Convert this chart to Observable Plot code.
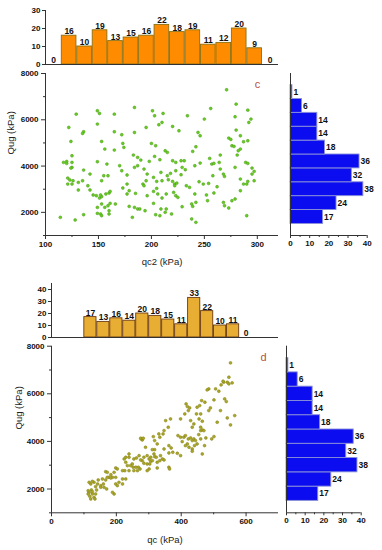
<!DOCTYPE html>
<html>
<head>
<meta charset="utf-8">
<script src="https://cdn.jsdelivr.net/npm/d3@7"></script>
<script src="https://cdn.jsdelivr.net/npm/@observablehq/plot@0.6"></script>
<style>
  html, body { margin: 0; padding: 0; background: #fff; }
  #chart { position: relative; width: 382px; height: 550px; overflow: hidden; background: #fff; }
  #chart svg { position: absolute; overflow: visible; }
</style>
</head>
<body>
<div id="chart"></div>
<script>
// ---------- DATA ----------
// Panel c: top histogram of qc2 (15 bins)
const cTopStart = 100.4, cTopWidth = 14.6;
const cTopCounts = [0, 16, 10, 19, 13, 15, 16, 22, 18, 19, 11, 12, 20, 9, 0];
// Panel d: top histogram of qc (13 bins)
const dTopStart = 100, dTopWidth = 40;
const dTopCounts = [17, 13, 16, 14, 20, 18, 15, 11, 33, 22, 10, 11, 0];
// Right histograms of Qug (bins bottom -> top), same for c and d
const qugStart = 1500, qugWidth = 600;
const qugCounts = [17, 24, 38, 32, 36, 18, 14, 14, 6, 1];

// Panel c scatter: qc2 (kPa) vs Qug (kPa)
const cQc2 = [271,280,149,151,184,201,203,211,256,234,250,291,294,292,279,129,122,165,149,195,207,210,220,226,244,246,280,284,136,135,165,184,172,124,153,173,174,156,165,200,204,213,215,239,242,273,275,276,278,287,291,284,282,281,125,183,187,190,198,203,208,220,223,228,231,229,232,246,241,255,257,259,264,265,265,268,269,279,289,291,295,297,295,117,120,120,125,125,124,136,142,149,158,159,170,172,177,184,187,193,196,202,209,215,218,223,228,121,123,126,125,131,135,121,140,153,155,177,195,192,205,210,216,220,222,222,224,233,236,245,249,254,258,262,284,287,290,291,297,131,142,145,148,151,153,152,157,160,161,173,177,179,185,193,196,202,205,206,210,214,221,223,225,241,252,259,253,276,279,268,269,273,284,149,153,156,159,160,161,149,152,153,160,166,179,184,187,189,194,202,204,208,209,214,213,219,229,238,239,242,136,114,128,182,238,242,290];
const cQug = [7295,6676,6388,6273,6532,6388,6172,6273,6489,6172,6029,6417,6029,5885,6129,6244,5669,6244,5813,5669,5784,5885,5712,5525,5453,5309,5554,5309,5482,5410,5482,5453,5352,5064,5064,4978,4806,4734,4690,4978,4877,4662,4590,4633,4834,5208,5150,4877,4850,5050,5093,4734,4662,4475,4446,4475,4374,4259,4201,4417,4273,4230,4158,4230,4230,3942,3842,4129,4014,4331,4086,4115,4158,4475,3870,3654,3553,3942,4158,4115,3913,3769,3654,4158,4201,4115,4158,3942,3913,3827,3654,4187,4086,3582,4014,3798,3611,3942,4014,3870,3654,3510,3726,3582,3683,3798,3625,3481,3395,3366,3222,3294,3366,3222,3150,3366,3582,3222,3366,3222,3337,3366,3409,3337,3222,3150,3265,3150,3078,3323,3222,3251,3582,3107,3438,3222,3222,3337,3366,2964,2964,2748,2719,2618,2676,2748,2791,2834,2906,3050,2791,2935,2820,3150,2719,2906,3035,2791,2618,2791,2863,2719,2647,2791,2748,2834,2503,2503,2575,2431,2287,2187,2935,2215,2359,2215,2287,2072,2388,1956,1928,1856,1928,2359,2258,2215,2143,2143,2072,2388,1899,1856,2143,2143,2000,1928,2244,2359,2258,2431,1899,1784,1669,1784,1712,1568,1856];

// Panel d scatter: qc (kPa) vs Qug (kPa)
const dQc = [552,547,542,547,557,531,529,523,565,552,542,534,539,521,511,501,506,516,485,480,490,485,473,463,457,449,460,455,465,447,439,434,429,422,415,419,426,411,398,390,398,408,413,422,429,434,439,444,449,460,465,460,470,454,472,465,476,494,501,460,441,434,434,419,413,403,424,398,388,374,362,369,362,367,352,360,347,344,334,326,331,314,318,318,311,336,342,347,362,364,306,316,295,301,306,311,318,323,290,285,280,285,275,270,268,273,280,277,295,301,303,295,262,254,249,252,260,254,265,244,239,239,229,239,229,224,234,226,219,229,219,198,203,193,198,188,183,208,203,198,193,188,177,167,172,172,183,167,157,160,152,152,162,170,142,136,131,144,126,116,121,113,116,123,118,121,131,136,139,134,126,126,113,219,275,283,326,334,347,326];
const dQug = [7299,6696,6486,6416,6458,6486,6528,6374,5084,4691,4986,5785,5673,5294,4804,5743,6205,6107,6205,6163,5406,5294,5645,5715,5504,5434,5154,4944,4846,5154,4734,4593,4874,5294,5575,5462,5406,5154,4944,4243,4173,4173,4243,4103,4145,4033,4103,4033,3892,4453,4481,4593,4453,4285,3822,3471,4145,4103,4201,4103,3822,3682,3584,3892,3822,3990,3752,3401,3499,3541,3513,3724,3822,4944,4874,4593,4453,4313,4173,3892,4313,4201,4033,3654,3654,3401,3261,3219,2911,2840,3331,3471,3401,3261,3163,3191,3359,3331,3752,3331,3191,3079,3219,3401,2911,2840,4060,4103,2770,2840,3051,3051,3303,3261,3051,2911,2911,2770,2770,2981,2770,3331,3331,3471,3121,3261,2981,2770,2770,2420,2420,2882,2840,2700,2490,2490,2602,2280,2140,2210,1789,1859,2490,2728,2700,2490,2462,2378,2420,2210,2140,2070,2070,2000,2210,2098,2280,2378,2322,2280,2210,1929,1859,1957,1691,1579,1649,1789,1957,1579,1789,1887,1789,2210,4130,4130,2882,3191,3682,3121];

// Tick values
const cXTicks = [100, 150, 200, 250, 300], cXMinor = [125, 175, 225, 275];
const dXTicks = [0, 200, 400, 600], dXMinor = [100, 300, 500];
const qugTicks = [2000, 4000, 6000, 8000], qugMinor = [1000, 3000, 5000, 7000];
const countTicks = [0, 10, 20, 30, 40], countMinor = [5, 15, 25, 35];
const cTopTicks = [0, 10, 20, 30], dTopTicks = [0, 10, 20, 30, 40];
const labels = {cX: "qc2 (kPa)", dX: "qc (kPa)", y: "Qug (kPa)", c: "c", d: "d"};

// ---------- BUILD ----------
const FONT = "Liberation Sans, Arial, Helvetica, sans-serif";
const baseStyle = {fontFamily: FONT, fontSize: "8px", fontWeight: "bold", color: "#111", background: "transparent", overflow: "visible"};
const AX = "#333";
const fmt = d => String(d);
const none = () => "";
const chart = document.getElementById("chart");
function place(svg, left, top) { svg.style.left = left + "px"; svg.style.top = top + "px"; chart.append(svg); }

const binsOf = (counts, start, width) => counts.map((n, i) => ({n, x1: start + i * width, x2: start + (i + 1) * width}));
const cTop = binsOf(cTopCounts, cTopStart, cTopWidth);
const dTop = binsOf(dTopCounts, dTopStart, dTopWidth);
const qugBins = qugCounts.map((n, i) => ({n, lo: qugStart + i * qugWidth, hi: qugStart + (i + 1) * qugWidth}));
const cPts = cQc2.map((x, i) => ({x, y: cQug[i]}));
const dPts = dQc.map((x, i) => ({x, y: dQug[i]}));

function topHist(bins, xDomain, yDomain, yTicks, m, fill, stroke) {
  return Plot.plot({
    width: 290, height: 70, ...m,
    style: baseStyle,
    x: {domain: xDomain, axis: null},
    y: {domain: yDomain, axis: null},
    marks: [
      Plot.rectY(bins, {x1: "x1", x2: "x2", y1: 0, y2: "n", fill, stroke, strokeWidth: 0.9, insetLeft: 0.4, insetRight: 0.4}),
      Plot.text(bins, {x: d => (d.x1 + d.x2) / 2, y: "n", text: d => String(d.n), lineAnchor: "bottom", dy: -1.5, fill: "#111", fontSize: 8.5}),
      Plot.ruleX([xDomain[0]], {stroke: AX, strokeWidth: 1}),
      Plot.ruleY([0], {stroke: AX, strokeWidth: 1}),
      Plot.axisY({ticks: yTicks, tickSize: 3, tickPadding: 2, stroke: AX, tickFormat: fmt, label: null})
    ]
  });
}

function scatter(pts, xDomain, xTicks, xMinor, m, fill, stroke, xLabel, tag, yLabDx, xLabDy, tagDx, tagDy) {
  return Plot.plot({
    width: 285, height: 210, ...m,
    style: baseStyle,
    x: {domain: xDomain, axis: null},
    y: {domain: [1000, 8000], axis: null},
    marks: [
      Plot.ruleX([xDomain[0]], {stroke: AX, strokeWidth: 1}),
      Plot.ruleY([1000], {stroke: AX, strokeWidth: 1}),
      Plot.axisX({ticks: xTicks, tickSize: 4, tickPadding: 2, stroke: AX, tickFormat: fmt, label: null}),
      Plot.axisX({ticks: xMinor, tickSize: 2, tickFormat: none, stroke: AX, label: null}),
      Plot.axisY({ticks: qugTicks, tickSize: 4, tickPadding: 3, stroke: AX, tickFormat: fmt, label: null}),
      Plot.axisY({ticks: qugMinor, tickSize: 2, tickFormat: none, stroke: AX, label: null}),
      Plot.dot(pts, {x: "x", y: "y", r: 1.45, fill, stroke, strokeWidth: 0.5}),
      Plot.text([tag], {frameAnchor: "top-right", dx: tagDx, dy: tagDy, textAnchor: "middle", lineAnchor: "middle", fill: "#b4503c", fontSize: 11, fontWeight: "normal"}),
      Plot.text([xLabel], {frameAnchor: "bottom", dy: xLabDy, lineAnchor: "middle", fontSize: 9.5, fontWeight: "normal", fill: "#222"}),
      Plot.text([labels.y], {frameAnchor: "left", dx: yLabDx, rotate: -90, lineAnchor: "middle", fontSize: 9.5, fontWeight: "normal", fill: "#222"})
    ]
  });
}

function rightHist(w, m) {
  return Plot.plot({
    width: w, height: 210, ...m,
    style: baseStyle,
    x: {domain: [0, 40], axis: null},
    y: {domain: [1000, 8000], axis: null},
    marks: [
      Plot.rectX(qugBins, {x1: 0, x2: "n", y1: "lo", y2: "hi", fill: "#0c0cf0", stroke: "#8a90d8", strokeWidth: 0.9}),
      Plot.text(qugBins, {x: "n", y: d => (d.lo + d.hi) / 2, text: d => String(d.n), textAnchor: "start", dx: 1, fill: "#111", fontSize: 8.5}),
      Plot.ruleX([0], {stroke: AX, strokeWidth: 1}),
      Plot.ruleY([1000], {stroke: AX, strokeWidth: 1}),
      Plot.axisX({ticks: countTicks, tickSize: 3, tickPadding: 2, stroke: AX, tickFormat: fmt, label: null}),
      Plot.axisX({ticks: countMinor, tickSize: 2, tickFormat: none, stroke: AX, label: null})
    ]
  });
}

// Panel c
place(topHist(cTop, [100, 320], [0, 30], cTopTicks,
  {marginLeft: 45, marginRight: 12, marginTop: 10, marginBottom: 6}, "#ff8c00", "#8a7012"), 0, 0);
place(scatter(cPts, [100, 320], cXTicks, cXMinor,
  {marginLeft: 45, marginRight: 7, marginTop: 9, marginBottom: 39}, "#66cc22", "#4b9a16",
  labels.cX, labels.c, -35, 26, -21, 11), 0, 64);
place(rightHist(102, {marginLeft: 10, marginRight: 15.3, marginTop: 9, marginBottom: 39}), 280, 64);

// Panel d
place(topHist(dTop, [0, 700], [0, 45], dTopTicks,
  {marginLeft: 51, marginRight: 12, marginTop: 8, marginBottom: 8}, "#e8ae34", "#6b3a12"), 0, 275);
place(scatter(dPts, [0, 700], dXTicks, dXMinor,
  {marginLeft: 51, marginRight: 7, marginTop: 5.7, marginBottom: 37.7}, "#aaa626", "#85811a",
  labels.dX, labels.d, -33, 27, -15, 11), 0, 340);
place(rightHist(106, {marginLeft: 10, marginRight: 21.3, marginTop: 5.7, marginBottom: 37.7}), 276, 340);
</script>
</body>
</html>
